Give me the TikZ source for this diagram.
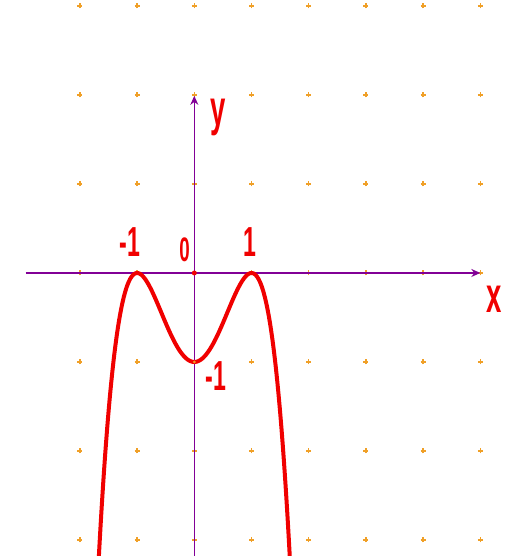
\documentclass[tikz,border=0pt]{standalone}
\usepackage{fontspec}
\setmainfont{Liberation Sans}
\usetikzlibrary{arrows.meta}
\definecolor{dotc}{RGB}{240,160,40}
\definecolor{axc}{RGB}{130,0,150}
\definecolor{crv}{RGB}{240,0,0}
\tikzset{
  lbl/.style={text=crv,inner sep=0pt,font=\fontsize{42}{42}\selectfont\bfseries},
  axisline/.style={draw=axc,line width=1.3pt,-{Stealth[length=9pt,width=8pt]}},
  gdot/.style={draw=dotc,line width=1.3pt}
}
\newcommand{\nar}[1]{\scalebox{0.55}[1]{#1}}
\begin{document}
\begin{tikzpicture}[x=57.2pt,y=89pt]
\useasboundingbox (-3.397,-3.180) rectangle (5.659,3.067);
\fill[white] (-3.397,-3.180) rectangle (5.659,3.067);
% grid dots
\foreach \i in {-2,...,5}{
  \foreach \j in {-3,...,3}{
    \draw[gdot] ([xshift=-2.5pt]\i,\j) -- ([xshift=2.5pt]\i,\j);
    \draw[gdot] ([yshift=-2.5pt]\i,\j) -- ([yshift=2.5pt]\i,\j);
  }
}
% axes
\coordinate (xs) at (-2.95,0);
\coordinate (xe) at (5.0,0);
\coordinate (ys) at (0,-3.18);
\coordinate (ye) at (0,1.99);
\draw[axisline] (xs) -- (xe);
\draw[axisline] (ys) -- (ye);
% curve
\draw[crv,line width=4pt,line join=round] plot[domain=-1.69:1.69,samples=120,smooth] (\x,{-(\x*\x-1)*(\x*\x-1)});
\fill[crv] (0,0) circle (2.5pt);
\fill[dotc] (0,-1) circle (1.5pt);
% labels
\node[lbl] (lm1) at (-1.12,0.35) {\nar{-1}};
\node[lbl,font=\fontsize{34}{34}\selectfont\bfseries] (l0) at (-0.17,0.26) {\nar{0}};
\node[lbl] (l1) at (0.98,0.35) {\nar{1}};
\node[lbl] (lym1) at (0.38,-1.16) {\nar{-1}};
\node[lbl,font=\fontsize{50}{50}\selectfont\bfseries] (ly) at (0.41,1.75) {\nar{y}};
\node[lbl,font=\fontsize{50}{50}\selectfont\bfseries] (lx) at (5.24,-0.30) {\nar{x}};
\end{tikzpicture}
\end{document}
